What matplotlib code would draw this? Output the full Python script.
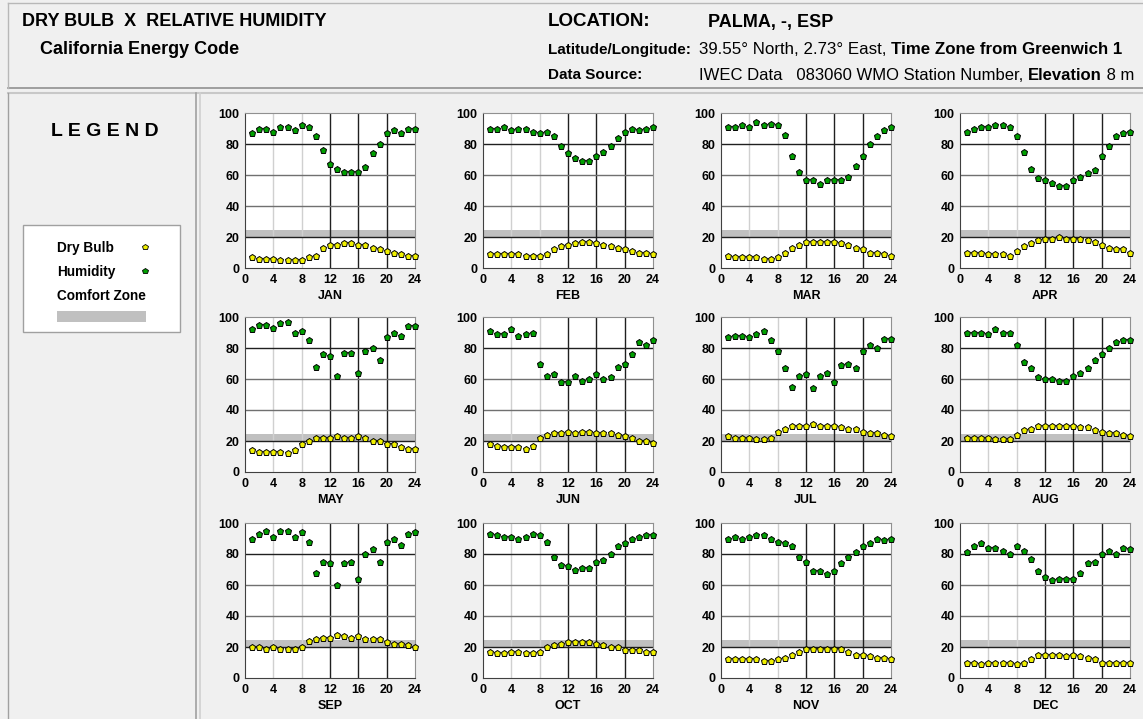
import matplotlib
matplotlib.use('Agg')
import matplotlib.pyplot as plt
from matplotlib.lines import Line2D
from matplotlib.patches import Rectangle

plt.rcParams['font.family'] = ['Liberation Sans', 'DejaVu Sans']

# hourly data, hours 1..24
hours = list(range(1, 25))
months = ['JAN', 'FEB', 'MAR', 'APR', 'MAY', 'JUN',
          'JUL', 'AUG', 'SEP', 'OCT', 'NOV', 'DEC']

hum_jan = [87, 90, 90, 88, 91, 91, 89, 92, 91, 85, 76, 67, 64, 62, 62, 62, 65, 74, 80, 87, 89, 87, 90, 90]
hum_feb = [90, 90, 91, 89, 90, 90, 88, 87, 88, 85, 79, 74, 71, 69, 69, 72, 75, 79, 84, 88, 90, 89, 90, 91]
hum_mar = [91, 91, 92, 91, 94, 92, 93, 92, 86, 72, 62, 57, 57, 54, 57, 57, 57, 59, 66, 72, 80, 85, 89, 91]
hum_apr = [88, 90, 91, 91, 92, 92, 91, 85, 75, 64, 58, 57, 55, 53, 53, 57, 59, 61, 63, 72, 79, 85, 87, 88]
hum_may = [92, 95, 95, 93, 96, 97, 90, 91, 85, 68, 76, 75, 62, 77, 77, 64, 78, 80, 72, 87, 90, 88, 94, 94]
hum_jun = [91, 89, 89, 92, 88, 89, 90, 70, 62, 63, 58, 58, 62, 59, 60, 63, 60, 61, 68, 70, 76, 84, 82, 85]
hum_jul = [87, 88, 88, 87, 89, 91, 85, 78, 67, 55, 62, 63, 54, 62, 64, 58, 69, 70, 67, 78, 82, 80, 86, 86]
hum_aug = [90, 90, 90, 89, 92, 90, 90, 82, 71, 67, 61, 60, 60, 59, 59, 62, 64, 67, 72, 76, 80, 84, 85, 85]
hum_sep = [90, 93, 95, 91, 95, 95, 91, 94, 88, 68, 75, 74, 60, 74, 75, 64, 80, 83, 75, 88, 90, 86, 93, 94]
hum_oct = [93, 92, 91, 91, 90, 91, 93, 92, 88, 78, 73, 72, 70, 71, 71, 75, 76, 80, 85, 87, 90, 91, 92, 92]
hum_nov = [90, 91, 90, 91, 92, 92, 90, 88, 87, 85, 78, 75, 69, 69, 67, 69, 74, 78, 81, 85, 87, 90, 89, 90]
hum_dec = [81, 85, 87, 84, 84, 82, 80, 85, 82, 77, 69, 65, 63, 64, 64, 64, 68, 74, 75, 80, 82, 80, 84, 83]

db_jan = [7, 6, 6, 6, 5, 5, 5, 5, 7, 8, 13, 15, 15, 16, 16, 15, 15, 13, 12, 11, 10, 9, 8, 8]
db_feb = [9, 9, 9, 9, 9, 8, 8, 8, 9, 12, 14, 15, 16, 17, 17, 16, 15, 14, 13, 12, 11, 10, 10, 9]
db_mar = [8, 7, 7, 7, 7, 6, 6, 7, 10, 13, 15, 17, 17, 17, 17, 17, 16, 15, 13, 12, 10, 10, 9, 8]
db_apr = [10, 10, 10, 9, 9, 9, 8, 11, 14, 16, 18, 19, 19, 20, 19, 19, 19, 18, 17, 15, 13, 12, 12, 10]
db_may = [14, 13, 13, 13, 13, 12, 14, 18, 20, 22, 22, 22, 23, 22, 22, 23, 22, 20, 20, 18, 18, 16, 15, 15]
db_jun = [18, 17, 16, 16, 16, 15, 17, 22, 24, 25, 25, 26, 25, 26, 26, 25, 25, 25, 24, 23, 22, 20, 20, 19]
db_jul = [23, 22, 22, 22, 21, 21, 22, 26, 28, 30, 30, 30, 31, 30, 30, 30, 29, 28, 28, 26, 25, 25, 24, 23]
db_aug = [22, 22, 22, 22, 21, 21, 21, 24, 27, 28, 30, 30, 30, 30, 30, 30, 29, 29, 27, 26, 25, 25, 24, 23]
db_sep = [20, 20, 19, 20, 19, 19, 19, 20, 24, 25, 26, 26, 28, 27, 26, 27, 25, 25, 25, 23, 22, 22, 21, 20]
db_oct = [17, 16, 16, 17, 17, 16, 16, 17, 20, 21, 22, 23, 23, 23, 23, 22, 21, 20, 20, 18, 18, 18, 17, 17]
db_nov = [12, 12, 12, 12, 12, 11, 11, 12, 13, 15, 17, 19, 19, 19, 19, 19, 19, 17, 15, 15, 14, 13, 13, 12]
db_dec = [10, 10, 9, 10, 10, 10, 10, 9, 10, 12, 15, 15, 15, 15, 14, 15, 14, 13, 12, 10, 10, 10, 10, 10]

humidity = [hum_jan, hum_feb, hum_mar, hum_apr, hum_may, hum_jun,
            hum_jul, hum_aug, hum_sep, hum_oct, hum_nov, hum_dec]
dry_bulb = [db_jan, db_feb, db_mar, db_apr, db_may, db_jun,
            db_jul, db_aug, db_sep, db_oct, db_nov, db_dec]

comfort_lo, comfort_hi = 20, 24.5

W, H = 1143, 719
BG = '#f0f0f0'
YEL = '#f0f000'
GRN = '#00a000'

fig = plt.figure(figsize=(W / 100, H / 100), dpi=100, facecolor=BG)


def px(x, y):
    return x / W, 1 - y / H


# frame lines of the header and legend panel
def hline(y, x0, x1, c='#a0a0a0', lw=1.0):
    fig.add_artist(Line2D([x0 / W, x1 / W], [1 - y / H, 1 - y / H], color=c, lw=lw))


def vline(x, y0, y1, c='#a0a0a0', lw=1.0):
    fig.add_artist(Line2D([x / W, x / W], [1 - y0 / H, 1 - y1 / H], color=c, lw=lw))


hline(3, 8, W, '#b8b8b8')
hline(88, 8, W, '#909090', 1.2)
hline(93, 8, W, '#c8c8c8', 1.5)
vline(8, 3, 88, '#b8b8b8')
vline(8, 93, H, '#a0a0a0')
vline(196, 93, H, '#a0a0a0', 1.2)
vline(200, 93, H, '#d0d0d0', 1.2)

# header text
def runs(x, y, parts, size):
    r = fig.canvas.get_renderer()
    fx, fy = px(x, y)
    for s, w in parts:
        t = fig.text(fx, fy, s, fontsize=size, fontweight=w, va='center', ha='left')
        fx += t.get_window_extent(r).width / W


fig.text(*px(22, 22), 'DRY BULB  X  RELATIVE HUMIDITY', fontsize=13, fontweight='bold', va='center')
fig.text(*px(40, 50), 'California Energy Code', fontsize=13, fontweight='bold', va='center')
fig.text(*px(548, 22), 'LOCATION:', fontsize=13.5, fontweight='bold', va='center')
fig.text(*px(708, 22), 'PALMA, -, ESP', fontsize=13, fontweight='bold', va='center')
fig.text(*px(548, 50), 'Latitude/Longitude:', fontsize=11, fontweight='bold', va='center')
fig.text(*px(548, 75), 'Data Source:', fontsize=11, fontweight='bold', va='center')
runs(699, 50, [('39.55° North, 2.73° East, ', 'normal'),
               ('Time Zone from Greenwich 1', 'bold')], 12.2)
runs(699, 75, [('IWEC Data   083060 WMO Station Number, ', 'normal'),
               ('Elevation', 'bold'), (' 8 m', 'normal')], 12)

# legend panel
fig.text(*px(105, 132), 'L E G E N D', fontsize=14, fontweight='bold', ha='center', va='center')
fig.add_artist(Rectangle(px(23, 332), 157 / W, 107 / H, transform=fig.transFigure,
                         facecolor='white', edgecolor='#a0a0a0', lw=1))
fig.text(*px(57, 248), 'Dry Bulb', fontsize=9.8, fontweight='bold', va='center')
fig.text(*px(57, 272), 'Humidity', fontsize=9.8, fontweight='bold', va='center')
fig.text(*px(57, 296), 'Comfort Zone', fontsize=9.8, fontweight='bold', va='center')
fig.add_artist(Line2D([145 / W], [1 - 247 / H], marker='p', ms=4, mfc=YEL, mec='black', mew=0.6, ls='none'))
fig.add_artist(Line2D([145 / W], [1 - 271 / H], marker='p', ms=4, mfc=GRN, mec='black', mew=0.6, ls='none'))
fig.add_artist(Rectangle(px(57, 322), 89 / W, 11 / H, transform=fig.transFigure,
                         facecolor='#c0c0c0', edgecolor='none'))

# panels
col_left = [245, 483, 721, 960]
row_top = [113, 317, 523]
aw, ah = 170, 155

for i, m in enumerate(months):
    r, c = divmod(i, 4)
    x0, y0 = px(col_left[c], row_top[r] + ah)
    ax = fig.add_axes([x0, y0, aw / W, ah / H])
    ax.set_facecolor('white')
    ax.set_xlim(0, 24)
    ax.set_ylim(0, 100)
    ax.axhspan(comfort_lo, comfort_hi, color='#c0c0c0', lw=0, zorder=1)
    for gx in [4, 8]:
        ax.axvline(gx, color='#d0d0d0', lw=1, zorder=1.5)
    for gx in [12, 16, 20]:
        ax.axvline(gx, color='#202020', lw=1, zorder=1.5)
    for gy in [40, 60]:
        ax.axhline(gy, color='#707070', lw=1, zorder=1.5)
    for gy in [20, 80]:
        ax.axhline(gy, color='#202020', lw=1, zorder=1.5)
    ax.plot(hours, humidity[i], ls='none', marker='p', ms=4.5, mfc=GRN, mec='black',
            mew=0.7, zorder=3, clip_on=False)
    ax.plot(hours, dry_bulb[i], ls='none', marker='p', ms=4.5, mfc=YEL, mec='black',
            mew=0.7, zorder=3, clip_on=False)
    ax.set_xticks(range(0, 25, 4))
    ax.set_yticks(range(0, 101, 20))
    ax.tick_params(length=0, pad=4, labelsize=9)
    for lab in ax.get_xticklabels() + ax.get_yticklabels():
        lab.set_fontweight('bold')
    ax.set_xlabel(m, fontsize=9, fontweight='bold', labelpad=3)
    for s in ['left', 'bottom']:
        ax.spines[s].set_color('#404040')
    for s in ['top', 'right']:
        ax.spines[s].set_color('#909090')

fig.savefig('out.png', dpi=100, facecolor=BG)
